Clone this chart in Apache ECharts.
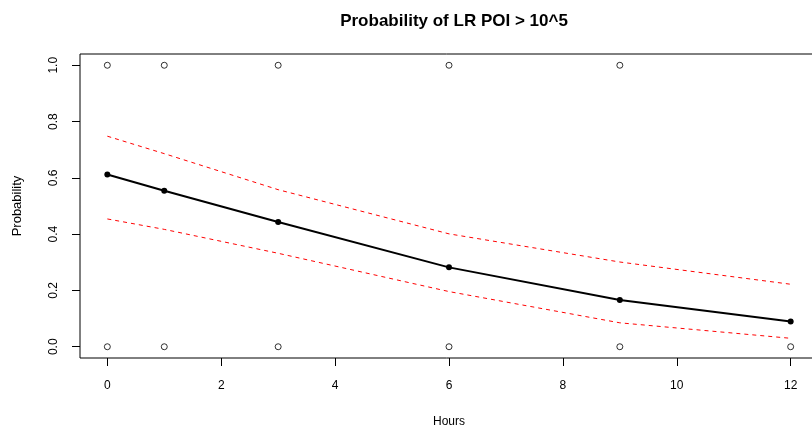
<!DOCTYPE html>
<html>
<head>
<meta charset="utf-8">
<script src="https://cdn.jsdelivr.net/npm/echarts@6/dist/echarts.min.js"></script>
<style>
  html, body { margin: 0; padding: 0; background: #fff; }
  #main { width: 812px; height: 431px; }
</style>
</head>
<body>
<div id="main"></div>
<script>
// data
var hours = [0, 1, 3, 6, 9, 12];
var fitted = [0.612, 0.554, 0.443, 0.282, 0.166, 0.090];
var upper = [0.748, 0.686, 0.558, 0.401, 0.301, 0.222];
var lower = [0.454, 0.417, 0.332, 0.196, 0.085, 0.030];
// observed outcomes (open circles)
var hoursYes = [0, 1, 3, 6, 9];
var hoursNo = [0, 1, 3, 6, 9, 12];
var xTicks = [0, 2, 4, 6, 8, 10, 12];
var yTicks = [0, 0.2, 0.4, 0.6, 0.8, 1.0];

function pairs(xs, ys) {
  return xs.map(function (x, i) { return [x, ys[i]]; });
}
function constPairs(xs, v) {
  return xs.map(function (x) { return [x, v]; });
}

var font = "Liberation Sans, Arial, sans-serif";
var myChart = echarts.init(document.getElementById("main"));
myChart.setOption({
  animation: false,
  title: {
    text: "Probability of LR POI > 10^5",
    left: 449,
    top: 8,
    textAlign: "center",
    textStyle: {
      color: "#000",
      fontWeight: "bold",
      fontFamily: font,
      fontSize: 17,
    },
  },
  //the plot box runs past the right edge, like the original
  grid: {
    left: 80,
    top: 54,
    width: 738,
    height: 304,
    outerBoundsMode: "none",
    containLabel: false,
    show: true,
    borderColor: "#000",
    borderWidth: 1,
    backgroundColor: "transparent",
  },
  xAxis: {
    type: "value",
    min: -0.48,
    max: 12.48,
    name: "Hours",
    nameLocation: "middle",
    nameGap: 58,
    nameTextStyle: { color: "#000", fontFamily: font, fontSize: 12 },
    axisLine: { show: false, onZero: false },
    axisTick: {
      show: true,
      customValues: xTicks,
      length: 8,
      lineStyle: { color: "#000" },
    },
    axisLabel: {
      customValues: xTicks,
      margin: 22,
      color: "#000",
      fontFamily: font,
      fontSize: 12,
    },
    splitLine: { show: false },
  },
  yAxis: {
    type: "value",
    min: -0.04,
    max: 1.04,
    name: "Probability",
    nameLocation: "middle",
    nameGap: 56,
    nameTextStyle: { color: "#000", fontFamily: font, fontSize: 13 },
    axisLine: { show: false, onZero: false },
    axisTick: {
      show: true,
      customValues: yTicks,
      length: 8,
      lineStyle: { color: "#000" },
    },
    axisLabel: {
      customValues: yTicks,
      rotate: 90,
      margin: 20,
      color: "#000",
      fontFamily: font,
      fontSize: 12,
      formatter: function (v) { return v.toFixed(1); },
    },
    splitLine: { show: false },
  },
  series: [
    {
      name: "obs1",
      type: "scatter",
      data: constPairs(hoursYes, 1),
      symbol: "circle",
      symbolSize: 6,
      itemStyle: { color: "#fff", borderColor: "#000", borderWidth: 1 },
    },
    {
      name: "obs0",
      type: "scatter",
      data: constPairs(hoursNo, 0),
      symbol: "circle",
      symbolSize: 6,
      itemStyle: { color: "#fff", borderColor: "#000", borderWidth: 1 },
    },
    {
      name: "upper",
      type: "line",
      data: pairs(hours, upper),
      showSymbol: false,
      lineStyle: { color: "#ff0000", width: 1, type: [4, 4] },
    },
    {
      name: "lower",
      type: "line",
      data: pairs(hours, lower),
      showSymbol: false,
      lineStyle: { color: "#ff0000", width: 1, type: [4, 4] },
    },
    {
      name: "fit",
      type: "line",
      data: pairs(hours, fitted),
      symbol: "circle",
      symbolSize: 6,
      itemStyle: { color: "#000" },
      lineStyle: { color: "#000", width: 2 },
    },
  ],
});
</script>
</body>
</html>
